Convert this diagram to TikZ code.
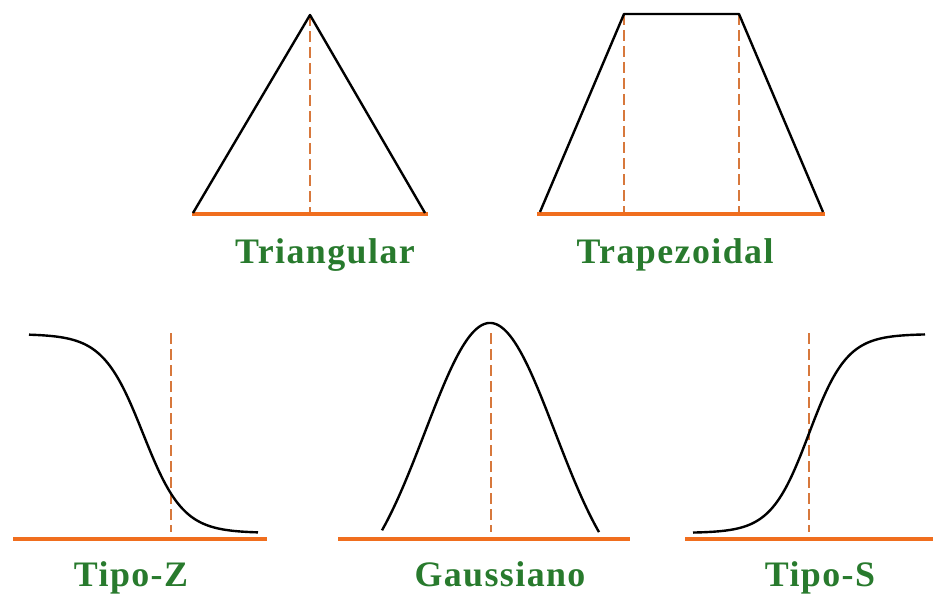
\documentclass[tikz,border=0pt]{standalone}
\usepackage{fontspec}
\setmainfont{Liberation Serif}
\definecolor{baseorange}{RGB}{240,110,30}
\definecolor{dashorange}{RGB}{215,120,60}
\definecolor{labelgreen}{RGB}{40,122,45}
\tikzset{
  baseline line/.style={draw=baseorange, line width=4bp},
  shape line/.style={draw=black, line width=2.4bp, line join=round},
  guide/.style={draw=dashorange, line width=1.5bp, dash pattern=on 11bp off 5bp},
  lbl/.style={anchor=base, text=labelgreen, inner sep=0pt,
    font=\fontsize{36}{40}\selectfont\bfseries\addfontfeature{LetterSpace=4}},
}
\begin{document}
\begin{tikzpicture}[x=1bp, y=-1bp]
\useasboundingbox (0,0) rectangle (933,599);
% ---------- Triangular ----------
\coordinate (tA) at (193,213);
\coordinate (tB) at (310,15);
\coordinate (tC) at (425,213);
\coordinate (tBase) at (310,214);
\draw[guide] (tB) -- (tBase);
\draw[baseline line] (192,214) -- (428,214);
\draw[shape line] (tA) -- (tB) -- (tC);
\node[lbl] (triLabel) at (325,264) {Triangular};
% ---------- Trapezoidal ----------
\coordinate (pA) at (540,212);
\coordinate (pB) at (624,14);
\coordinate (pC) at (739,14);
\coordinate (pD) at (823,212);
\draw[guide] (pB) -- (624,214);
\draw[guide] (pC) -- (739,214);
\draw[baseline line] (537,214) -- (825,214);
\draw[shape line] (pA) -- (pB) -- (pC) -- (pD);
\node[lbl] (trapLabel) at (675,264) {Trapezoidal};
% ---------- Tipo-Z ----------
\draw[guide] (171,333) -- (171,532);
\draw[baseline line] (13,539) -- (267,539);
\draw[shape line] plot[domain=29:258, samples=120, smooth]
  (\x,{334+199/(1+exp(-(\x-143)/20))});
\node[lbl] (zLabel) at (131,586) {Tipo-Z};
% ---------- Gaussiano ----------
\draw[guide] (491,333) -- (491,532);
\draw[baseline line] (338,539) -- (630,539);
\draw[shape line] plot[domain=382:599, samples=120, smooth]
  (\x,{323+277*(1-exp(-((\x-490)*(\x-490))/8450))});
\node[lbl] (gLabel) at (500,586) {Gaussiano};
% ---------- Tipo-S ----------
\draw[guide] (809,333) -- (809,532);
\draw[baseline line] (685,539) -- (933,539);
\draw[shape line] plot[domain=693:925, samples=120, smooth]
  (\x,{533-199/(1+exp(-(\x-809)/19))});
\node[lbl] (sLabel) at (820,586) {Tipo-S};
\end{tikzpicture}
\end{document}
